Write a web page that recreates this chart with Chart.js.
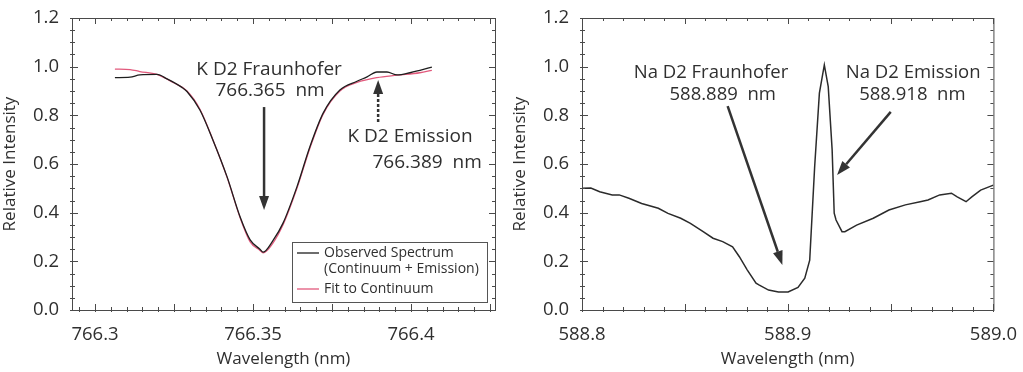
<!DOCTYPE html>
<html>
<head>
<meta charset="utf-8">
<script src="https://cdn.jsdelivr.net/npm/chart.js@4.4.1/dist/chart.umd.min.js"></script>
<style>
    html, body { margin: 0; padding: 0; background: #fff; }
    #wrap { position: relative; width: 1023px; height: 372px; }
    canvas { position: absolute; top: 0; }
</style>
</head>
<body>
<div id="wrap">
    <canvas id="chart_k" width="510" height="372" style="left:0"></canvas>
    <canvas id="chart_na" width="513" height="372" style="left:510px"></canvas>
</div>
<script>
// K D2 line (left panel)
var k_wave = [766.3063, 766.3111, 766.3142, 766.3196, 766.3228, 766.3275, 766.3291, 766.3332, 766.3373, 766.3418,
    766.3459, 766.3491, 766.3522, 766.3532, 766.3563, 766.3595, 766.3639, 766.3680, 766.3722, 766.3775,
    766.3829, 766.3861, 766.3892, 766.3924, 766.3956, 766.3997, 766.4028, 766.4066];
var k_observed = [0.955, 0.957, 0.966, 0.968, 0.950, 0.915, 0.898, 0.822, 0.699, 0.547,
    0.383, 0.288, 0.250, 0.238, 0.285, 0.357, 0.506, 0.671, 0.809, 0.904,
    0.940, 0.958, 0.978, 0.978, 0.966, 0.975, 0.985, 0.998];
var k_fit_wave = [766.3063, 766.3111, 766.3142, 766.3196, 766.3247, 766.3291, 766.3332, 766.3373, 766.3418, 766.3459,
    766.3491, 766.3522, 766.3532, 766.3563, 766.3595, 766.3639, 766.3680, 766.3722, 766.3775, 766.3829,
    766.3892, 766.3956, 766.4028, 766.4066];
var k_fit = [0.990, 0.988, 0.980, 0.968, 0.935, 0.900, 0.825, 0.700, 0.545, 0.380,
    0.280, 0.245, 0.235, 0.275, 0.350, 0.500, 0.665, 0.805, 0.900, 0.935,
    0.955, 0.965, 0.975, 0.985];

// Na D2 line (right panel)
var na_wave = [588.8005, 588.8043, 588.8086, 588.8147, 588.8181, 588.8228, 588.8290, 588.8371, 588.8418, 588.8480,
    588.8527, 588.8589, 588.8637, 588.8684, 588.8732, 588.8765, 588.8803, 588.8846, 588.8860, 588.8907,
    588.8955, 588.9002, 588.9050, 588.9083, 588.9107, 588.9131, 588.9154, 588.9178, 588.9197, 588.9216,
    588.9226, 588.9235, 588.9264, 588.9278, 588.9335, 588.9416, 588.9492, 588.9572, 588.9644, 588.9682,
    588.9739, 588.9796, 588.9824, 588.9867, 588.9895, 588.9938, 589.0000];
var na_intensity = [0.500, 0.501, 0.486, 0.473, 0.473, 0.459, 0.438, 0.418, 0.397, 0.377,
    0.356, 0.322, 0.295, 0.281, 0.260, 0.219, 0.165, 0.110, 0.103, 0.082,
    0.074, 0.074, 0.093, 0.131, 0.205, 0.589, 0.891, 1.007, 0.918, 0.658,
    0.398, 0.370, 0.322, 0.322, 0.349, 0.377, 0.411, 0.432, 0.445, 0.452,
    0.473, 0.480, 0.465, 0.445, 0.465, 0.493, 0.513];

// tick labels
var k_ticks = [766.3, 766.35, 766.4];
var k_tick_labels = ['766.3', '766.35', '766.4'];
var na_ticks = [588.8, 588.9, 589.0];
var na_tick_labels = ['588.8', '588.9', '589.0'];

var text_color = '#2f2f2f';
Chart.defaults.font.family = "'Open Sans', sans-serif";
Chart.defaults.color = text_color;

function toPoints(xs, ys) {
    return xs.map(function (x, i) { return { x: x, y: ys[i] }; });
}

// box around the plot area, with minor / major ticks on all four sides
var frame_plugin = {
    id: 'frame',
    afterDraw: function (chart, args, opts) {
        var ctx = chart.ctx, a = chart.chartArea;
        var xs = chart.scales.x, ys = chart.scales.y;
        ctx.save();
        ctx.strokeStyle = '#4a4a4a';
        ctx.lineWidth = 1;
        ctx.strokeRect(a.left + 0.5, a.top + 0.5, a.right - a.left, a.bottom - a.top);

        function isMajor(v, step) {
            var r = v / step;
            return Math.abs(r - Math.round(r)) < 1e-6;
        }
        ctx.beginPath();
        var i0 = Math.ceil(xs.min / opts.xMinor - 1e-6), i1 = Math.floor(xs.max / opts.xMinor + 1e-6);
        for (var i = i0; i <= i1; i++) {
            var v = i * opts.xMinor;
            var px = Math.round(xs.getPixelForValue(v)) + 0.5;
            var len = isMajor(v, opts.xMajor) ? 6 : 3;
            ctx.moveTo(px, a.bottom + 2); ctx.lineTo(px, a.bottom - len);
            ctx.moveTo(px, a.top); ctx.lineTo(px, a.top + len);
        }
        var j0 = Math.ceil(ys.min / opts.yMinor - 1e-6), j1 = Math.floor(ys.max / opts.yMinor + 1e-6);
        for (var j = j0; j <= j1; j++) {
            var w = j * opts.yMinor;
            var py = Math.round(ys.getPixelForValue(w)) + 0.5;
            var l2 = isMajor(w, opts.yMajor) ? 6 : 3;
            ctx.moveTo(a.left - 2, py); ctx.lineTo(a.left + l2, py);
            ctx.moveTo(a.right, py); ctx.lineTo(a.right - l2, py);
        }
        ctx.stroke();
        ctx.restore();
    }
};

// text labels and arrows, placed in data units
var notes_plugin = {
    id: 'notes',
    afterDraw: function (chart, args, opts) {
        var ctx = chart.ctx, xs = chart.scales.x, ys = chart.scales.y;
        ctx.save();
        ctx.fillStyle = text_color;
        ctx.font = (opts.size || 18) + "px 'Open Sans', sans-serif";
        ctx.textAlign = 'center';
        ctx.textBaseline = 'middle';
        (opts.texts || []).forEach(function (t) {
            ctx.fillText(t.text, xs.getPixelForValue(t.x), ys.getPixelForValue(t.y));
        });
        (opts.arrows || []).forEach(function (ar) {
            var x1 = xs.getPixelForValue(ar.x1), y1 = ys.getPixelForValue(ar.y1);
            var x2 = xs.getPixelForValue(ar.x2), y2 = ys.getPixelForValue(ar.y2);
            var ang = Math.atan2(y2 - y1, x2 - x1);
            var head = 14, half = 5;
            var bx = x2 - head * Math.cos(ang), by = y2 - head * Math.sin(ang);
            ctx.strokeStyle = '#333';
            ctx.fillStyle = '#333';
            ctx.lineWidth = 2.5;
            ctx.setLineDash(ar.dashed ? [3, 2] : []);
            ctx.beginPath();
            ctx.moveTo(x1, y1); ctx.lineTo(bx, by);
            ctx.stroke();
            ctx.setLineDash([]);
            ctx.beginPath();
            ctx.moveTo(x2, y2);
            ctx.lineTo(bx + half * Math.sin(ang), by - half * Math.cos(ang));
            ctx.lineTo(bx - half * Math.sin(ang), by + half * Math.cos(ang));
            ctx.closePath();
            ctx.fill();
        });
        ctx.restore();
    }
};

// boxed legend in the lower right corner of the plot
var box_legend_plugin = {
    id: 'boxLegend',
    afterDraw: function (chart) {
        var ctx = chart.ctx, a = chart.chartArea;
        var w = 195, h = 60;
        var x0 = a.right - 8 - w, y0 = a.bottom - 8 - h;
        ctx.save();
        ctx.fillStyle = '#fff';
        ctx.fillRect(x0, y0, w, h);
        ctx.strokeStyle = '#555';
        ctx.lineWidth = 1;
        ctx.strokeRect(Math.round(x0) + 0.5, Math.round(y0) + 0.5, w, h);
        ctx.font = "14px 'Open Sans', sans-serif";
        ctx.textBaseline = 'middle';
        ctx.textAlign = 'left';
        var y = y0 + 11;
        chart.data.datasets.forEach(function (ds) {
            var lines = [].concat(ds.label);
            ctx.strokeStyle = ds.borderColor;
            ctx.lineWidth = 1.3;
            ctx.beginPath();
            ctx.moveTo(x0 + 5, y); ctx.lineTo(x0 + 27, y);
            ctx.stroke();
            ctx.fillStyle = text_color;
            lines.forEach(function (ln) {
                ctx.fillText(ln, x0 + 32, y);
                y += 16;
            });
            y += 4;
        });
        ctx.restore();
    }
};

function yScale(titlePad) {
    return {
        min: 0, max: 1.2,
        grid: { display: false },
        border: { display: false },
        ticks: {
            stepSize: 0.2, padding: 5, font: { size: 18.5 },
            callback: function (v) { return v.toFixed(1); }
        },
        title: { display: true, text: 'Relative Intensity', font: { size: 17 }, padding: titlePad },
        afterFit: function (s) { s.width = 72; }
    };
}

function xScale(min, max, ticks, labels) {
    return {
        type: 'linear', min: min, max: max,
        grid: { display: false },
        border: { display: false },
        afterBuildTicks: function (axis) {
            axis.ticks = ticks.map(function (v) { return { value: v }; });
        },
        ticks: {
            padding: 6, font: { size: 18.5 }, maxRotation: 0, autoSkip: false,
            callback: function (v, i) { return labels[i]; }
        },
        title: { display: true, text: 'Wavelength (nm)', font: { size: 17 }, padding: { top: 0, bottom: 3 } },
        afterFit: function (s) { s.height = 62; }
    };
}

new Chart(document.getElementById('chart_k'), {
    type: 'line',
    data: {
        datasets: [{
            label: ['Observed Spectrum', '(Continuum + Emission)'],
            data: toPoints(k_wave, k_observed),
            borderColor: '#1e1e1e', borderWidth: 1.3,
            pointRadius: 0, cubicInterpolationMode: 'monotone'
        }, {
            label: 'Fit to Continuum',
            data: toPoints(k_fit_wave, k_fit),
            borderColor: '#e2597c', borderWidth: 1.3,
            pointRadius: 0, cubicInterpolationMode: 'monotone'
        }]
    },
    options: {
        responsive: false, animation: false,
        layout: { padding: { top: 18, right: 15, left: 0, bottom: 0 } },
        scales: {
            x: xScale(766.29272, 766.42658, k_ticks, k_tick_labels),
            y: yScale({ top: 0, bottom: 5 })
        },
        plugins: {
            legend: { display: false }, tooltip: { enabled: false },
            frame: { xMinor: 0.005, xMajor: 0.025, yMinor: 0.05, yMajor: 0.2 },
            notes: {
                size: 19,
                texts: [
                    { text: 'K D2 Fraunhofer', x: 766.3551, y: 0.990 },
                    { text: '766.365  nm', x: 766.3554, y: 0.900 },
                    { text: 'K D2 Emission', x: 766.3997, y: 0.711 },
                    { text: '766.389  nm', x: 766.4051, y: 0.604 }
                ],
                arrows: [
                    { x1: 766.3535, y1: 0.834, x2: 766.3535, y2: 0.411 },
                    { x1: 766.3896, y1: 0.773, x2: 766.3896, y2: 0.945, dashed: true }
                ]
            }
        }
    },
    plugins: [frame_plugin, notes_plugin, box_legend_plugin]
});

new Chart(document.getElementById('chart_na'), {
    type: 'line',
    data: {
        datasets: [{
            label: 'Na D2',
            data: toPoints(na_wave, na_intensity),
            borderColor: '#2b2b2b', borderWidth: 1.5,
            pointRadius: 0, tension: 0
        }]
    },
    options: {
        responsive: false, animation: false,
        layout: { padding: { top: 18, right: 23, left: 0, bottom: 0 } },
        scales: {
            x: xScale(588.8, 589.0, na_ticks, na_tick_labels),
            y: yScale({ top: 0, bottom: 8 })
        },
        plugins: {
            legend: { display: false }, tooltip: { enabled: false },
            frame: { xMinor: 0.01, xMajor: 0.05, yMinor: 0.05, yMajor: 0.2 },
            notes: {
                size: 18.5,
                texts: [
                    { text: 'Na D2 Fraunhofer', x: 588.8627, y: 0.974 },
                    { text: '588.889  nm', x: 588.8684, y: 0.884 },
                    { text: 'Na D2 Emission', x: 588.9610, y: 0.974 },
                    { text: '588.918  nm', x: 588.9606, y: 0.884 }
                ],
                arrows: [
                    { x1: 588.8708, y1: 0.838, x2: 588.8974, y2: 0.185 },
                    { x1: 588.9501, y1: 0.814, x2: 588.9240, y2: 0.555 }
                ]
            }
        }
    },
    plugins: [frame_plugin, notes_plugin]
});
</script>
</body>
</html>
